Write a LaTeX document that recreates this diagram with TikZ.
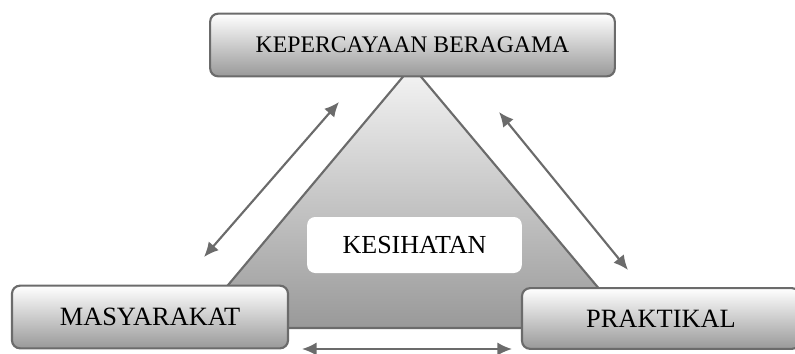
\documentclass[tikz,border=0pt]{standalone}
\usepackage{fontspec}
\setmainfont{Liberation Serif}
\usetikzlibrary{arrows.meta}

\begin{document}
\begin{tikzpicture}[x=0.75pt, y=-0.75pt,
        topic/.style={rectangle, rounded corners=6pt, draw=black!58, line width=1.6pt, top color=white, bottom color=black!40, inner sep=0pt, minimum height=47pt},
        core/.style={rectangle, rounded corners=6pt, fill=white, inner sep=0pt, minimum width=161pt, minimum height=42pt},
        link/.style={{Latex[length=11pt,width=10pt]}-{Latex[length=11pt,width=10pt]}, draw=black!58, line width=1.6pt}
    ]
    \useasboundingbox (0,0) rectangle (795,353);

    % Triangle
    \coordinate (apex) at (412,66);
    \coordinate (baseL) at (192,328);
    \coordinate (baseR) at (632,328);
    \draw[draw=black!58, line width=1.6pt, top color=black!4, bottom color=black!40] (apex) -- (baseL) -- (baseR) -- cycle;

    % Centre
    \node[core, font=\fontsize{19.5}{22}\selectfont] (health) at (414.5,245) {KESIHATAN};

    % Corners
    \node[topic, minimum width=303.5pt, font=\fontsize{17.8}{20}\selectfont] (faith) at (412.5,45) {KEPERCAYAAN BERAGAMA};
    \node[topic, minimum width=207pt, font=\fontsize{19.8}{22}\selectfont] (society) at (150,317) {MASYARAKAT};
    \node[topic, minimum width=208.5pt, minimum height=45.5pt, font=\fontsize{19.8}{22}\selectfont] (practice) at (661,318.5) {PRAKTIKAL};

    % Arrows
    \coordinate (l1) at (339,102);
    \coordinate (l2) at (204,257);
    \coordinate (r1) at (499,112);
    \coordinate (r2) at (628,270);
    \coordinate (b1) at (302,349);
    \coordinate (b2) at (512,349);
    \draw[link] (l1) -- (l2);
    \draw[link] (r1) -- (r2);
    \draw[link] (b1) -- (b2);

\end{tikzpicture}
\end{document}
